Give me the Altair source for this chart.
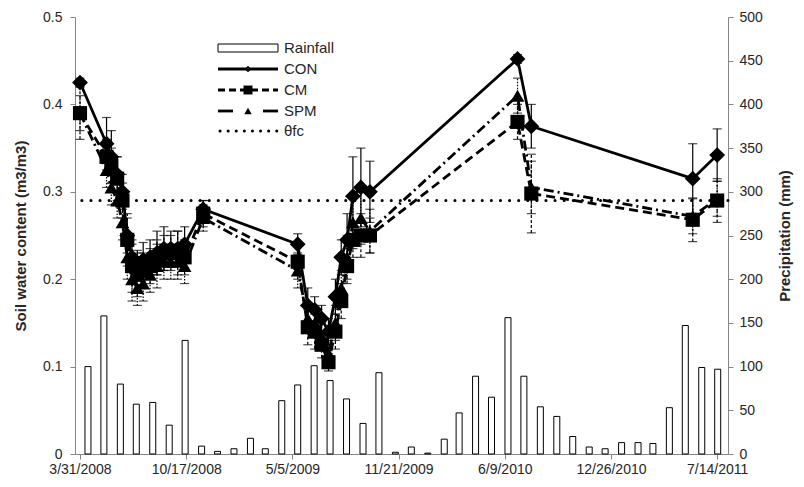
import altair as alt
import pandas as pd

# ---------------- data ----------------
swc_dates = [
    "2008-03-31", "2008-05-20", "2008-05-29", "2008-06-09", "2008-06-19", "2008-06-28",
    "2008-07-07", "2008-07-17", "2008-07-28", "2008-08-10", "2008-08-23", "2008-09-05",
    "2008-09-18", "2008-10-01", "2008-10-14", "2008-11-18",
    "2009-05-15", "2009-06-03", "2009-06-16", "2009-06-29", "2009-07-12", "2009-07-25",
    "2009-08-05", "2009-08-16", "2009-08-27", "2009-09-11", "2009-09-28",
    "2010-07-03", "2010-07-29", "2011-05-29", "2011-07-14",
]
con = [0.425, 0.355, 0.340, 0.320, 0.300, 0.250, 0.225, 0.218, 0.222, 0.225, 0.230, 0.235,
       0.235, 0.235, 0.240, 0.280,
       0.240, 0.170, 0.165, 0.155, 0.140, 0.180, 0.225, 0.245, 0.295, 0.305, 0.300,
       0.452, 0.375, 0.315, 0.342]
cm = [0.390, 0.340, 0.330, 0.315, 0.290, 0.245, 0.215, 0.205, 0.210, 0.215, 0.225, 0.230,
      0.230, 0.230, 0.225, 0.275,
      0.220, 0.145, 0.140, 0.125, 0.105, 0.140, 0.175, 0.215, 0.245, 0.250, 0.250,
      0.380, 0.298, 0.268, 0.290]
spm = [0.390, 0.325, 0.305, 0.290, 0.265, 0.225, 0.200, 0.190, 0.195, 0.205, 0.215, 0.220,
       0.220, 0.220, 0.215, 0.270,
       0.210, 0.155, 0.150, 0.135, 0.115, 0.150, 0.190, 0.225, 0.265, 0.270, 0.255,
       0.410, 0.305, 0.272, 0.292]
con_err = [0.005, 0.030, 0.030, 0.020, 0.020, 0.020, 0.015, 0.015, 0.020, 0.020, 0.025, 0.025,
           0.020, 0.020, 0.020, 0.010,
           0.012, 0.020, 0.015, 0.015, 0.015, 0.020, 0.020, 0.030, 0.045, 0.045, 0.035,
           0.005, 0.025, 0.040, 0.030]
cm_err = [0.030, 0.020, 0.020, 0.025, 0.020, 0.030, 0.030, 0.025, 0.020, 0.020, 0.020, 0.020,
          0.020, 0.025, 0.020, 0.015,
          0.020, 0.020, 0.020, 0.015, 0.010, 0.020, 0.020, 0.020, 0.020, 0.025, 0.020,
          0.020, 0.045, 0.025, 0.025]
spm_err = [0.020, 0.020, 0.020, 0.020, 0.020, 0.025, 0.025, 0.020, 0.020, 0.020, 0.025, 0.020,
           0.020, 0.020, 0.020, 0.015,
           0.020, 0.015, 0.015, 0.015, 0.015, 0.020, 0.020, 0.025, 0.030, 0.030, 0.025,
           0.020, 0.030, 0.020, 0.020]

rain_months = [d.strftime("%Y-%m-15") for d in pd.date_range("2008-04-01", "2011-07-01", freq="MS")]
rain_mm = [100, 158, 80, 57, 59, 33, 130, 9, 3, 6, 18, 6,
           61, 79, 101, 84, 63, 35, 93, 2, 8, 1, 17, 47,
           89, 65, 156, 89, 54, 43, 20, 8, 6, 13, 13, 12,
           53, 147, 99, 97]

fc_value = 0.29
x_ticks = ["2008-03-31", "2008-10-17", "2009-05-05", "2009-11-21",
           "2010-06-09", "2010-12-26", "2011-07-14"]
x_range = ["2008-03-31", "2011-07-25"]
left_ticks = [0, 0.1, 0.2, 0.3, 0.4, 0.5]
right_ticks = [0, 50, 100, 150, 200, 250, 300, 350, 400, 450, 500]
legend_labels = ["Rainfall", "CON", "CM", "SPM", "θfc"]

# ---------------- tables ----------------
rows = []
for name, vals, errs in [("CON", con, con_err), ("CM", cm, cm_err), ("SPM", spm, spm_err)]:
    for d, v, e in zip(swc_dates, vals, errs):
        rows.append({"series": name, "date": d, "value": v, "lo": v - e, "hi": v + e})
swc_df = pd.DataFrame(rows)
rain_df = pd.DataFrame({"month": rain_months, "mm": rain_mm})
fc_df = pd.DataFrame({"fc": [fc_value]})


def dt(s):
    y, m, d = (int(p) for p in s.split("-"))
    return alt.DateTime(year=y, month=m, date=d, utc=True)


FONT = "Liberation Sans"
TXT = "#262626"
xscale = alt.Scale(type="utc", domain=[dt(s) for s in x_range], nice=False)
yscale = alt.Scale(domain=[0, 0.5], nice=False)

x_axis = alt.Axis(values=[dt(s) for s in x_ticks],
                  labelExpr="utcFormat(datum.value, '%-m/%-d/%Y')",
                  title=None, labelFlush=False, labelOverlap=False, labelPadding=3)
y_axis = alt.Axis(values=left_ticks, format="~g", title="Soil water content (m3/m3)",
                  titlePadding=14, labelPadding=8, labelFlush=False)

bars = alt.Chart(rain_df).mark_bar(size=6, fill="white", stroke="black", strokeWidth=1).encode(
    x=alt.X("month:T", scale=xscale, axis=x_axis),
    y=alt.Y("mm:Q", scale=alt.Scale(domain=[0, 500], nice=False),
            axis=alt.Axis(orient="right", values=right_ticks, title="Precipitation (mm)",
                          titleAngle=270, titlePadding=30, labelPadding=6)),
)

fc_rule = alt.Chart(fc_df).mark_rule(color="black", strokeWidth=3, strokeDash=[0.1, 9],
                                     strokeCap="round").encode(
    y=alt.Y("fc:Q", scale=yscale, axis=y_axis)
)

styles = {
    "CON": dict(dash=None, err_dash=None, shape="diamond", size=250),
    "CM": dict(dash=[9, 5], err_dash=[3, 2], shape="square", size=200),
    "SPM": dict(dash=[10, 4, 2, 4], err_dash=[1.5, 1.5], shape="triangle-up", size=190),
}

X = alt.X("date:T", scale=xscale, axis=x_axis)


def Y(field):
    return alt.Y(f"{field}:Q", scale=yscale, axis=y_axis)


err_layers, line_layers, point_layers = [], [], []
for name in ["SPM", "CON", "CM"]:
    st = styles[name]
    base = alt.Chart(swc_df).transform_filter(alt.datum.series == name)
    rule_kw = dict(color="black", strokeWidth=1.2)
    if st["err_dash"]:
        rule_kw["strokeDash"] = st["err_dash"]
    err_layers.append(base.mark_rule(**rule_kw).encode(x=X, y=Y("lo"), y2="hi:Q"))
    for f in ["lo", "hi"]:
        err_layers.append(base.mark_tick(color="black", thickness=1.2, size=9,
                                         orient="horizontal").encode(x=X, y=Y(f)))
    line_kw = dict(color="black", strokeWidth=2.8)
    if st["dash"]:
        line_kw["strokeDash"] = st["dash"]
    line_layers.append(base.mark_line(**line_kw).encode(x=X, y=Y("value")))
    point_layers.append(base.mark_point(shape=st["shape"], filled=True, size=st["size"],
                                        color="black", opacity=1).encode(x=X, y=Y("value")))

# ---------------- legend (drawn inside the plot, top-left) ----------------
LX0, LX1, LXC, LXT = 143, 203, 173, 209
LY = [31, 52, 73, 94, 114]
one = pd.DataFrame({"k": [0]})
legend_layers = []
legend_layers.append(alt.Chart(one).mark_rect(fill="white", stroke="black", strokeWidth=1).encode(
    x=alt.value(LX0), x2=alt.value(LX1), y=alt.value(LY[0] - 4), y2=alt.value(LY[0] + 4)))
legend_layers.append(alt.Chart(one).mark_rule(color="black", strokeWidth=2.8).encode(
    x=alt.value(LX0), x2=alt.value(LX1), y=alt.value(LY[1])))
legend_layers.append(alt.Chart(one).mark_point(shape="diamond", filled=True, size=45,
                                               color="black", opacity=1).encode(
    x=alt.value(LXC), y=alt.value(LY[1])))
legend_layers.append(alt.Chart(one).mark_rule(color="black", strokeWidth=2.8, strokeDash=[7, 4]).encode(
    x=alt.value(LX0), x2=alt.value(LX1), y=alt.value(LY[2])))
legend_layers.append(alt.Chart(one).mark_point(shape="square", filled=True, size=80,
                                               color="black", opacity=1).encode(
    x=alt.value(LXC), y=alt.value(LY[2])))
for a, b in [(LX0, LX0 + 15), (LX1 - 15, LX1)]:
    legend_layers.append(alt.Chart(one).mark_rule(color="black", strokeWidth=2.8).encode(
        x=alt.value(a), x2=alt.value(b), y=alt.value(LY[3])))
legend_layers.append(alt.Chart(one).mark_point(shape="triangle-up", filled=True, size=55,
                                               color="black", opacity=1).encode(
    x=alt.value(LXC), y=alt.value(LY[3])))
legend_layers.append(alt.Chart(one).mark_rule(color="black", strokeWidth=3, strokeDash=[0.1, 8],
                                              strokeCap="round").encode(
    x=alt.value(LX0 + 2), x2=alt.value(LX1), y=alt.value(LY[4])))
for lab, yy in zip(legend_labels, LY):
    legend_layers.append(alt.Chart(pd.DataFrame({"t": [lab]})).mark_text(
        align="left", baseline="middle", font=FONT, fontSize=15, color=TXT).encode(
        x=alt.value(LXT), y=alt.value(yy), text="t:N"))

inner = alt.layer(fc_rule, *err_layers, *line_layers, *point_layers, *legend_layers)

chart = alt.layer(bars, inner).resolve_scale(y="independent").properties(
    width=653, height=437,
    autosize=alt.AutoSizeParams(type="none"),
    padding={"left": 67, "top": 9, "right": 68, "bottom": 30},
).configure_view(stroke=None).configure_axis(
    grid=False, domainColor="#868686", tickColor="#868686", tickSize=5,
    labelFont=FONT, titleFont=FONT, labelFontSize=14, titleFontSize=15,
    labelColor=TXT, titleColor=TXT, titleFontWeight="bold",
)

chart.save("out.html", embed_options={"renderer": "svg", "actions": False})
